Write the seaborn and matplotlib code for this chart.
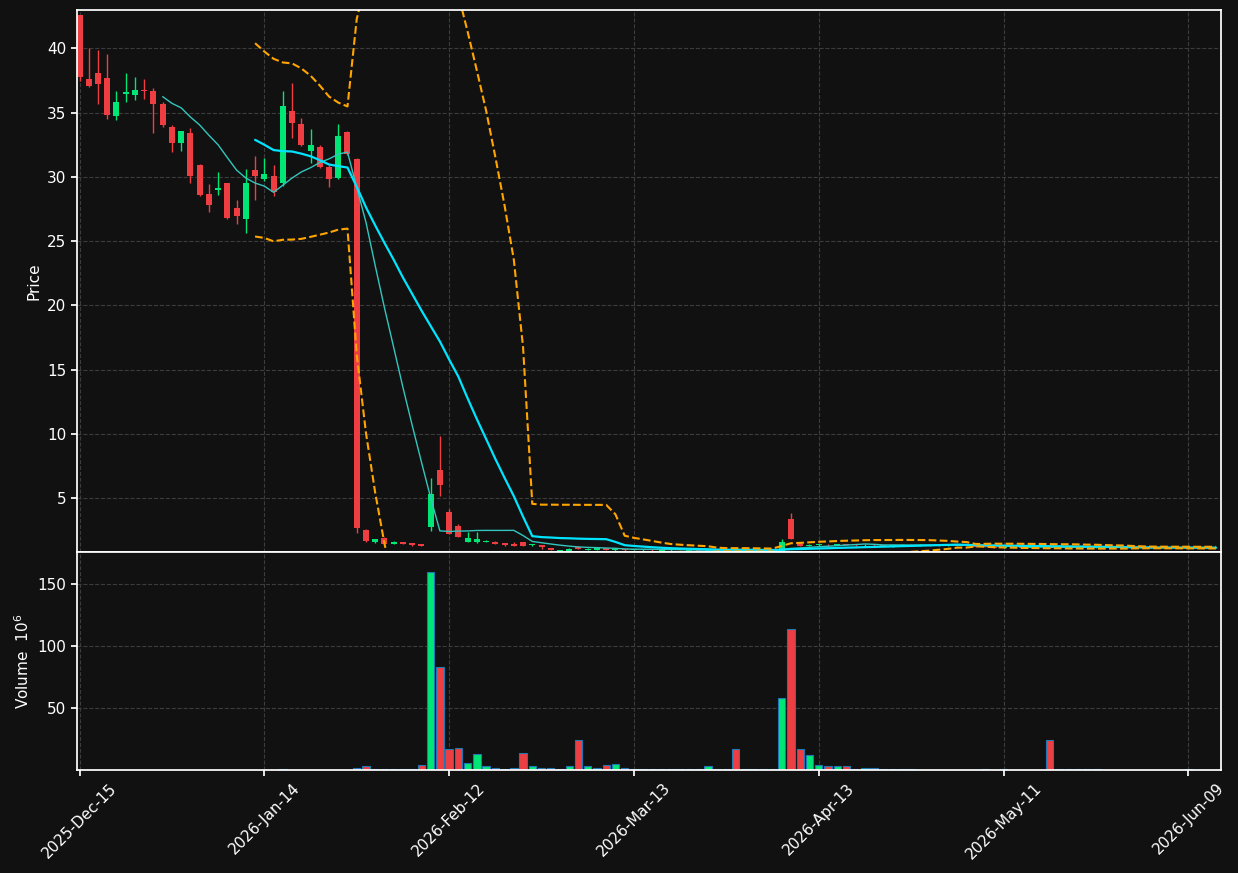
import numpy as np
import pandas as pd
import seaborn as sns
import matplotlib
matplotlib.use("Agg")
import matplotlib.pyplot as plt

# trading days (US holidays skipped)
holidays = ["2025-12-25", "2026-01-01", "2026-01-19", "2026-02-16", "2026-04-03", "2026-05-25"]
dates = pd.bdate_range("2025-12-15", "2026-06-12")
dates = dates[~dates.isin(pd.to_datetime(holidays))]

opens = [42.6, 37.6, 38.1, 37.7, 34.7, 36.45, 36.4, 36.75, 36.7, 35.7,
         33.9, 32.6, 33.45, 30.95, 28.7, 29.0, 29.5, 27.6, 26.7, 30.55,
         29.8, 30.1, 29.5, 35.1, 34.1, 32.0, 32.3, 30.8, 29.9, 33.5,
         31.4, 2.5, 1.57, 1.9, 1.42, 1.57, 1.5, 1.44, 2.77, 7.2,
         3.91, 2.82, 1.6, 1.57, 1.6, 1.6, 1.5, 1.45, 1.57, 1.32,
         1.34, 1.1, 0.88, 0.9, 1.2, 0.98, 0.96, 1.1, 0.95, 1.0,
         0.95, 0.92, 0.97, 0.9, 0.93, 0.96, 0.91, 0.94, 0.9, 0.95,
         0.92, 0.97, 0.93, 0.95, 0.92, 0.94, 0.9, 3.37, 1.45, 1.3,
         1.33, 1.38, 1.35, 1.4, 1.36, 1.32, 1.38, 1.34, 1.25, 1.3,
         1.36, 1.33, 1.38, 1.34, 1.3, 1.36, 1.3, 1.25, 1.22, 1.2,
         1.12, 1.15, 1.18, 1.14, 1.2, 1.22, 1.16, 1.2, 1.15, 1.18,
         1.14, 1.17, 1.13, 1.16, 1.12, 1.15, 1.11, 1.14, 1.12, 1.1,
         1.13, 1.11, 1.14, 1.1]
closes = [37.8, 37.1, 37.2, 34.8, 35.8, 36.6, 36.8, 36.65, 35.7, 34.0,
          32.6, 33.6, 30.05, 28.6, 27.8, 29.15, 26.8, 26.95, 29.55, 30.1,
          30.2, 28.8, 35.55, 34.2, 32.5, 32.5, 30.8, 29.8, 33.2, 31.8,
          2.65, 1.65, 1.8, 1.42, 1.6, 1.42, 1.34, 1.26, 5.3, 6.0,
          2.2, 1.96, 1.88, 1.8, 1.65, 1.42, 1.34, 1.3, 1.26, 1.42,
          1.18, 0.98, 0.96, 1.05, 1.05, 1.05, 1.15, 0.98, 1.05, 0.93,
          0.98, 0.96, 0.92, 0.95, 0.97, 0.92, 0.95, 0.9, 0.94, 0.91,
          0.96, 0.93, 0.95, 0.9, 0.94, 0.91, 1.6, 1.8, 1.3, 1.38,
          1.4, 1.33, 1.39, 1.35, 1.32, 1.38, 1.33, 1.28, 1.32, 1.37,
          1.3, 1.37, 1.33, 1.29, 1.35, 1.31, 1.26, 1.21, 1.18, 1.13,
          1.16, 1.19, 1.13, 1.19, 1.2, 1.15, 1.21, 1.14, 1.18, 1.13,
          1.17, 1.12, 1.16, 1.11, 1.15, 1.1, 1.14, 1.11, 1.13, 1.12,
          1.1, 1.13, 1.1, 1.12]
highs = [42.6, 40.0, 39.9, 39.6, 36.7, 38.1, 37.8, 37.6, 36.9, 35.8,
         34.0, 33.6, 33.8, 31.0, 29.45, 30.4, 29.5, 28.2, 30.6, 31.6,
         31.5, 30.9, 36.7, 37.3, 34.6, 33.7, 32.5, 30.9, 34.1, 33.6,
         31.5, 2.6, 1.85, 1.95, 1.65, 1.6, 1.52, 1.46, 6.54, 9.84,
         4.15, 3.0, 2.33, 2.33, 1.7, 1.62, 1.52, 1.6, 1.58, 1.45,
         1.36, 1.12, 0.98, 1.1, 1.3, 1.08, 1.2, 1.15, 1.1, 1.05,
         1.02, 1.0, 1.0, 0.99, 1.0, 0.99, 0.98, 0.97, 0.97, 0.98,
         0.99, 0.99, 0.98, 0.98, 0.97, 0.97, 1.8, 3.8, 1.5, 1.42,
         1.45, 1.42, 1.43, 1.44, 1.4, 1.42, 1.4, 1.36, 1.35, 1.4,
         1.4, 1.4, 1.42, 1.38, 1.38, 1.38, 1.33, 1.28, 1.25, 1.22,
         1.2, 1.22, 1.21, 1.22, 1.24, 1.25, 1.24, 1.23, 1.2, 1.2,
         1.2, 1.19, 1.18, 1.18, 1.17, 1.17, 1.16, 1.16, 1.15, 1.14,
         1.15, 1.15, 1.16, 1.14]
lows = [37.5, 37.0, 35.7, 34.5, 34.4, 35.85, 36.0, 36.1, 33.45, 33.9,
        31.9, 32.0, 29.5, 28.5, 27.3, 28.6, 26.7, 26.35, 25.6, 28.2,
        29.7, 28.5, 29.3, 33.0, 32.4, 31.1, 30.7, 29.2, 29.8, 31.7,
        2.3, 1.6, 1.5, 1.4, 1.4, 1.4, 1.3, 1.25, 2.46, 5.18,
        2.2, 1.95, 1.55, 1.5, 1.55, 1.4, 1.3, 1.25, 1.26, 1.3,
        1.0, 0.95, 0.85, 0.88, 1.0, 0.95, 0.94, 0.95, 0.9, 0.9,
        0.92, 0.9, 0.88, 0.88, 0.9, 0.89, 0.89, 0.87, 0.88, 0.89,
        0.9, 0.9, 0.9, 0.88, 0.9, 0.89, 0.85, 1.8, 1.28, 1.27,
        1.3, 1.3, 1.32, 1.32, 1.3, 1.3, 1.3, 1.25, 1.22, 1.28,
        1.28, 1.3, 1.3, 1.26, 1.27, 1.28, 1.23, 1.2, 1.16, 1.1,
        1.1, 1.12, 1.11, 1.12, 1.17, 1.13, 1.14, 1.12, 1.13, 1.11,
        1.12, 1.1, 1.1, 1.09, 1.1, 1.08, 1.09, 1.09, 1.1, 1.08,
        1.08, 1.09, 1.08, 1.08]
volumes = [0.3, 0.2, 0.3, 0.2, 0.2, 0.1, 0.1, 0.1, 0.2, 0.2,
           0.3, 0.2, 0.3, 0.2, 0.2, 0.2, 0.3, 0.2, 0.3, 0.2,
           0.2, 0.2, 0.4, 0.3, 0.2, 0.2, 0.2, 0.2, 0.3, 0.3,
           2.0, 3.0, 0.8, 0.7, 0.5, 0.5, 0.6, 4.0, 160.0, 83.0,
           17.0, 18.0, 6.0, 13.0, 3.0, 2.0, 1.0, 2.0, 14.0, 3.0,
           2.0, 2.0, 1.0, 3.0, 24.0, 3.0, 2.0, 4.0, 5.0, 2.0,
           1.0, 0.5, 1.0, 1.0, 1.0, 1.0, 0.6, 0.5, 3.0, 1.0,
           0.5, 17.0, 1.0, 1.0, 1.0, 0.5, 58.0, 114.0, 17.0, 12.0,
           4.0, 3.0, 3.0, 3.0, 1.0, 2.0, 2.0, 1.0, 1.0, 0.4,
           0.4, 0.3, 0.3, 0.3, 0.3, 0.3, 0.3, 0.3, 0.5, 0.3,
           1.0, 0.3, 0.3, 0.3, 0.3, 24.0, 1.0, 1.0, 1.0, 1.0,
           0.4, 0.3, 0.3, 0.3, 0.3, 0.3, 0.3, 0.3, 0.3, 0.3,
           0.5, 0.3, 0.3, 0.3]

df = pd.DataFrame({"Open": opens, "High": highs, "Low": lows, "Close": closes,
                   "Volume": volumes}, index=dates[:len(opens)])
df["i"] = np.arange(len(df))
df["dir"] = np.where(df["Close"] >= df["Open"], "up", "down")
df["ma10"] = df["Close"].rolling(10).mean()
df["ma20"] = df["Close"].rolling(20).mean()
sd = df["Close"].rolling(20).std(ddof=0)
df["upper"] = df["ma20"] + 2 * sd
df["lower"] = df["ma20"] - 2 * sd

UP, DOWN, BG = "#00e676", "#ef3e42", "#111111"
sns.set_theme(style="dark", rc={"axes.facecolor": BG, "figure.facecolor": BG,
                                "axes.edgecolor": "white", "text.color": "white",
                                "axes.labelcolor": "white", "xtick.color": "white",
                                "ytick.color": "white", "grid.color": "#3c3c3c",
                                "grid.linestyle": "--"})
plt.rcParams["font.family"] = ["DejaVu Sans"]

fig = plt.figure(figsize=(12.38, 8.73), dpi=100)
ax = fig.add_axes([0.062, 0.3677, 0.924, 0.621])
axv = fig.add_axes([0.062, 0.118, 0.924, 0.2497], sharex=ax)

# candles
cols = df["dir"].map({"up": UP, "down": DOWN})
ax.vlines(df["i"], df["Low"], df["High"], colors=cols, linewidth=1)
body_lo = df[["Open", "Close"]].min(axis=1)
body_h = (df["Open"] - df["Close"]).abs().clip(lower=0.05)
ax.bar(df["i"], body_h, bottom=body_lo, width=0.65, color=cols, linewidth=0)

sns.lineplot(data=df, x="i", y="ma10", ax=ax, color="#33c6bd", linewidth=1)
sns.lineplot(data=df, x="i", y="ma20", ax=ax, color="#00e5ff", linewidth=1.6)
sns.lineplot(data=df, x="i", y="upper", ax=ax, color="#ffa500", linewidth=1.5, linestyle="--")
sns.lineplot(data=df, x="i", y="lower", ax=ax, color="#ffa500", linewidth=1.5, linestyle="--")

ax.set_ylim(0.8, 43.0)
ax.set_ylabel("Price", fontsize=11)
ax.set_xlabel("")
ax.grid(True, linestyle="--", color="#3c3c3c", linewidth=0.8)
ax.tick_params(labelbottom=False, labelsize=11, length=4, left=True)

# volume
axv.bar(df["i"], df["Volume"], width=0.8, color=cols, edgecolor="#1f77b4", linewidth=0.8)
axv.set_ylim(0, 176)
axv.set_yticks([50, 100, 150])
axv.set_ylabel("Volume  $10^6$", fontsize=11)
axv.grid(True, linestyle="--", color="#3c3c3c", linewidth=0.8)

ticks = list(range(0, len(df), 20))
axv.set_xticks(ticks)
axv.set_xticklabels([d.strftime("%Y-%b-%d") for d in df.index[ticks]], rotation=45,
                    ha="center", fontsize=11)
axv.tick_params(labelsize=11, length=4, bottom=True, left=True)
axv.set_xlim(-0.3, 123.5)
for a in (ax, axv):
    for s in a.spines.values():
        s.set_color("white")

fig.savefig("out.png", dpi=100, facecolor=BG)
